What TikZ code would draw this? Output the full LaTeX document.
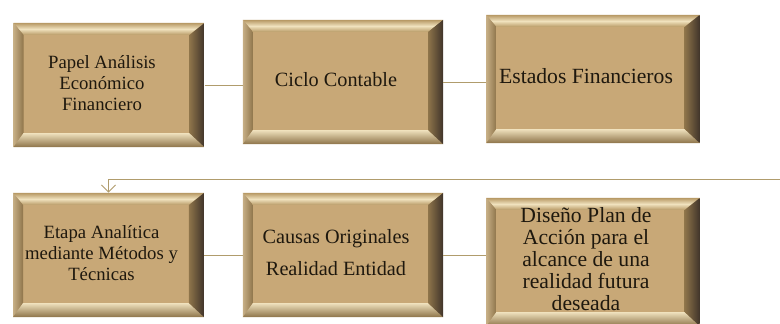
\documentclass[tikz,border=0pt]{standalone}
\usepackage{fontspec}
\setmainfont{Liberation Serif}
\usetikzlibrary{calc,arrows.meta}

\definecolor{boxface}{HTML}{C8A877}
\definecolor{bevlight}{HTML}{F0E2BE}
\definecolor{bevmid}{HTML}{B89A66}
\definecolor{bevdark}{HTML}{8E744A}
\definecolor{bevright}{HTML}{40342A}
\definecolor{linktan}{HTML}{B09C6C}
\definecolor{boxtext}{HTML}{1E180E}

% centred lines, pushed a little to the left of the face
\newcommand{\lineas}[1]{\begin{tabular}{@{}c@{}}#1\end{tabular}\kern0.35cm}

\tikzset{
  bevelbox/.style={rectangle, fill=boxface, inner sep=1pt, text=boxtext,
    path picture={
      \coordinate (nw) at (path picture bounding box.north west);
      \coordinate (ne) at (path picture bounding box.north east);
      \coordinate (sw) at (path picture bounding box.south west);
      \coordinate (se) at (path picture bounding box.south east);
      % top edge
      \shade[top color=bevmid, bottom color=bevmid, middle color=bevlight]
        (nw) -- (ne) -- ($(ne)+(-15,12)$) -- ($(nw)+(10,12)$) -- cycle;
      % left edge
      \shade[left color=bevmid!80!white, right color=bevdark]
        (nw) -- ($(nw)+(10,12)$) -- ($(sw)+(10,-14)$) -- (sw) -- cycle;
      % bottom edge
      \shade[top color=bevlight, bottom color=bevdark]
        (sw) -- ($(sw)+(10,-14)$) -- ($(se)+(-15,-14)$) -- (se) -- cycle;
      % right edge
      \shade[left color=bevdark, right color=bevright]
        (ne) -- ($(ne)+(-15,12)$) -- ($(se)+(-15,-14)$) -- (se) -- cycle;
    }},
  smallbox/.style={bevelbox, minimum width=4.77cm, minimum height=3.1cm,
    font=\fontsize{13.3}{15}\selectfont},
  midbox/.style={bevelbox, minimum width=5cm, minimum height=3.1cm,
    font=\fontsize{14.4}{15}\selectfont},
  widebox/.style={bevelbox, minimum width=5.33cm, minimum height=3.2cm,
    font=\fontsize{15.4}{15.8}\selectfont},
  link/.style={draw=linktan, line width=0.7pt},
}

\begin{document}
\begin{tikzpicture}[x=0.025cm, y=-0.025cm]
\useasboundingbox (0,0) rectangle (780,323);

% first row
\node[smallbox] (papel) at (109,85) {\lineas{Papel Análisis\\Económico\\Financiero}};
\node[midbox] (ciclo) at (343,82) {\lineas{Ciclo Contable}};
\node[widebox] (estados) at (593,79) {\lineas{Estados Financieros}};

% second row
\node[smallbox] (etapa) at (108.5,255) {\lineas{Etapa Analítica\\mediante Métodos y\\Técnicas}};
\node[midbox] (causas) at (343,255) {\lineas{Causas Originales\\[8pt]Realidad Entidad}};
\node[widebox] (diseno) at (593,262)
  {\lineas{Diseño Plan de\\Acción para el\\alcance de una\\realidad futura\\deseada}};

% connectors
\draw[link] (papel.east) -- (papel.east -| ciclo.west);
\draw[link] (ciclo.east) -- (ciclo.east -| estados.west);
\coordinate (vuelta) at (780,179);
\draw[link, -{Straight Barb[length=5pt, width=10pt]}] (vuelta) -- (vuelta -| etapa) -- (etapa.north);
\draw[link] (etapa.east) -- (etapa.east -| causas.west);
\draw[link] (causas.east) -- (causas.east -| diseno.west);
\end{tikzpicture}
\end{document}
